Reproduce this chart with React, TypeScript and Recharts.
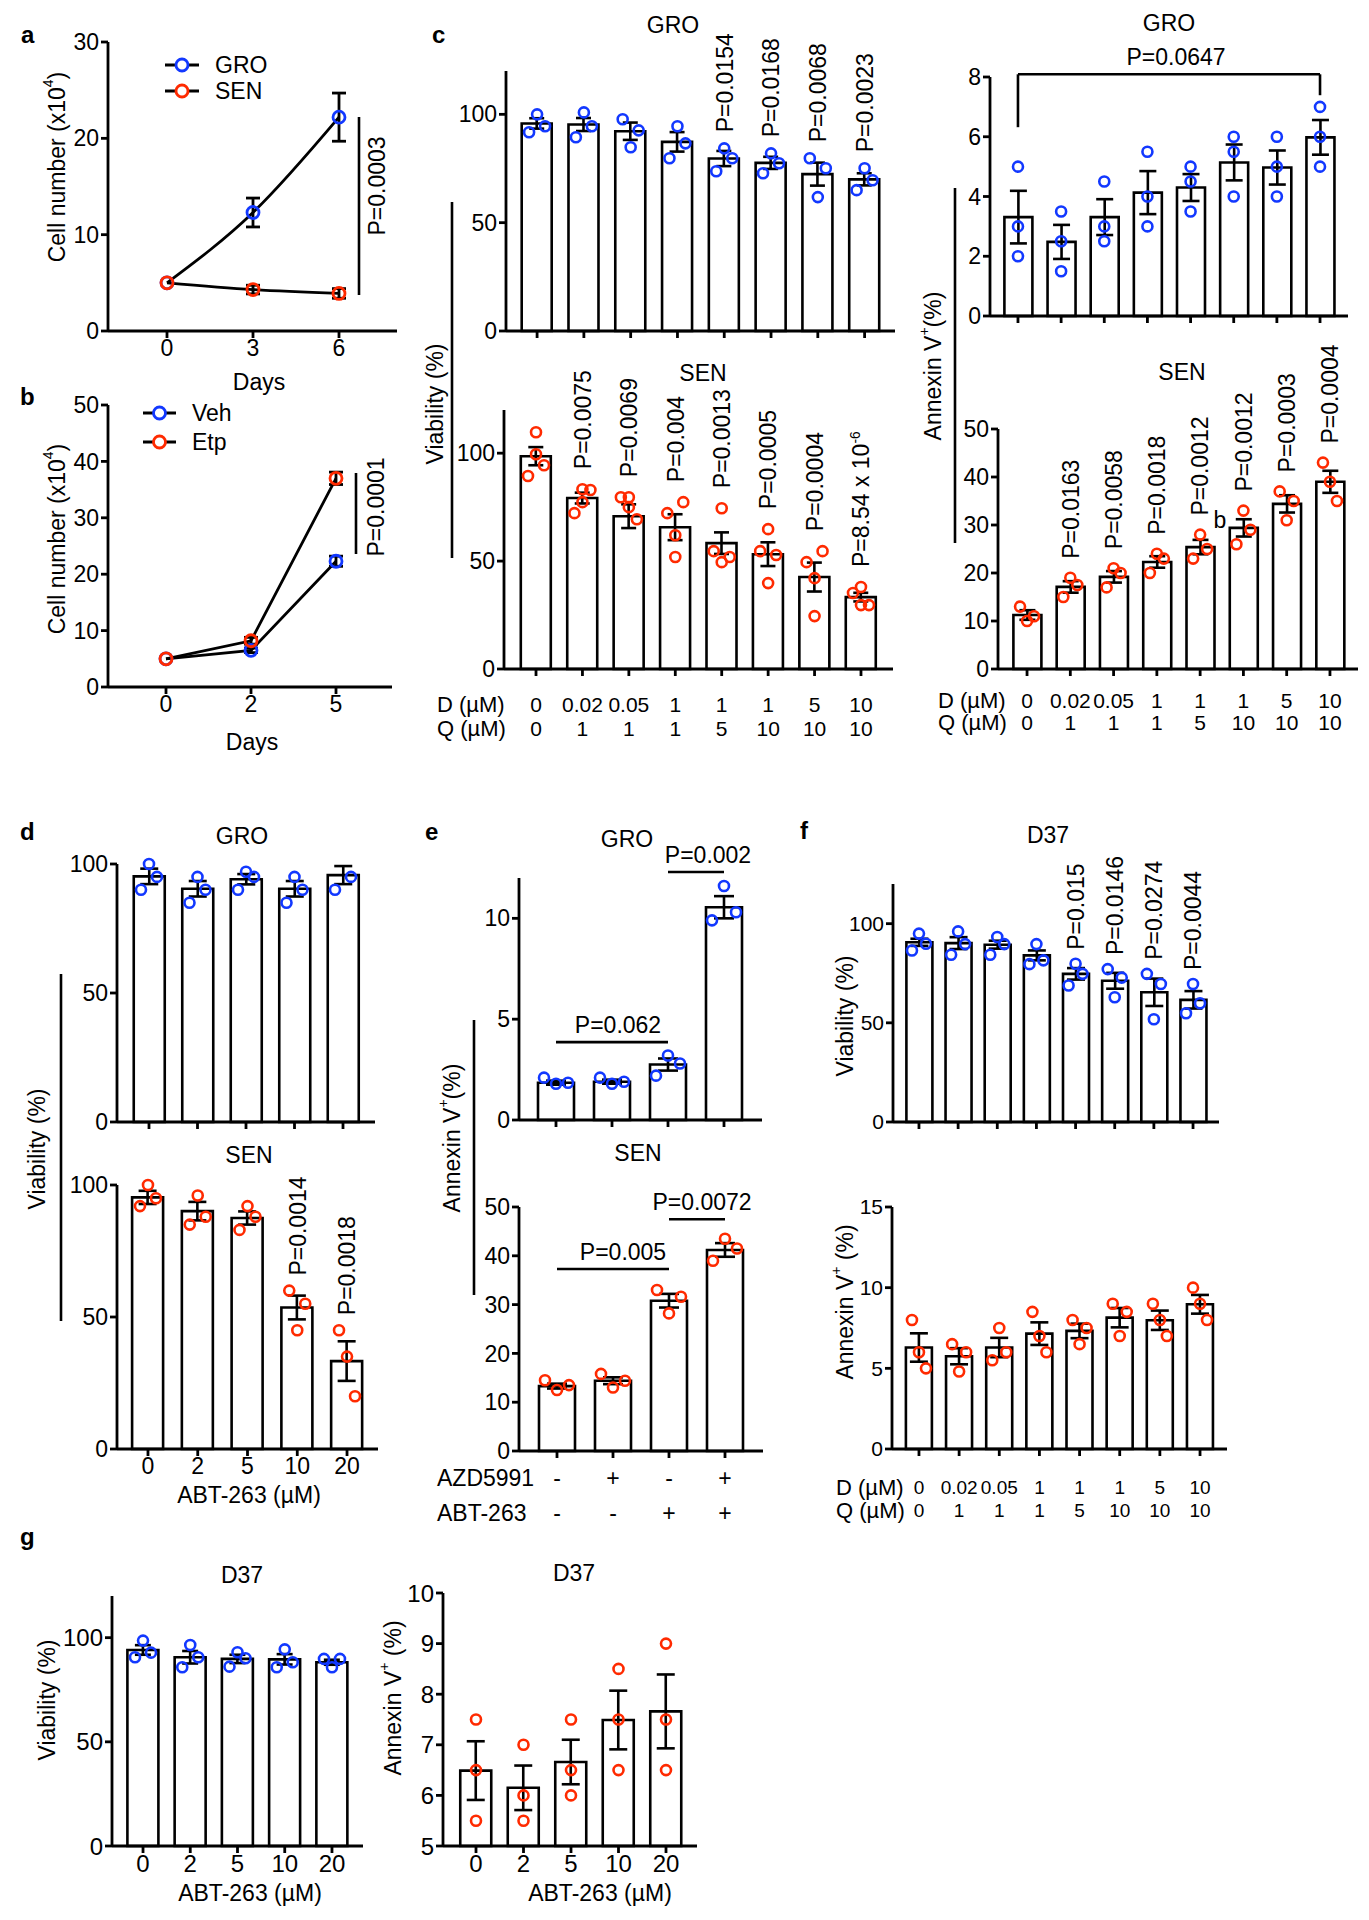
import React from 'react';
import { ComposedChart, LineChart, Line, Bar, Scatter, XAxis, YAxis, ErrorBar, ReferenceLine } from 'recharts';

const FONT = '"Liberation Sans", Arial, Helvetica, sans-serif';
const BLUE = '#1238ff';
const RED = '#ff2a00';
const AX = { stroke: '#000', strokeWidth: 2.8 };

// a - cell growth, GRO vs SEN
const aDays = ['0', '3', '6'];
const aGro = [5, 12.3, 22.2];
const aGroSem = [0, 1.5, 2.5];
const aSen = [5, 4.3, 3.9];
const aSenSem = [0, 0.45, 0.5];

// b - cell growth, Veh vs Etp
const bDays = ['0', '2', '5'];
const bVeh = [5, 6.5, 22.3];
const bVehSem = [0, 0.4, 0.9];
const bEtp = [5, 8.2, 37];
const bEtpSem = [0, 0.6, 1.1];

// c - D+Q doses
const cD = ['0', '0.02', '0.05', '1', '1', '1', '5', '10'];
const cQ = ['0', '1', '1', '1', '5', '10', '10', '10'];
const cCats = cD.map((d, i) => d + '/' + cQ[i]);

const cGroViab = [95.8, 95.3, 92.2, 87.3, 79.6, 77.6, 72.4, 70.0];
const cGroViabSem = [2.4, 3.0, 4.0, 4.5, 3.5, 2.8, 5.3, 2.8];
const cGroViabPts = [[91.7, 100, 94.5], [89.4, 100.9, 94.5], [97.7, 84.8, 92.6], [79.7, 94.5, 86.6], [73.7, 84.3, 79.7], [72.8, 82.0, 77.4], [79.7, 61.8, 75.1], [65.0, 75.1, 69.6]];
const cGroViabP = [null, null, null, null, 'P=0.0154', 'P=0.0168', 'P=0.0068', 'P=0.0023'];

const cSenViab = [98.6, 79.2, 70.8, 65.7, 58.3, 53.2, 42.6, 33.3];
const cSenViabSem = [4.2, 2.5, 5.5, 6.0, 5.0, 5.5, 6.7, 2.0];
const cSenViabPts = [[89.4, 109.7, 99.5, 94.4], [72.2, 83.3, 77.3, 82.9], [79.6, 75, 79.6, 69.4], [72.2, 62, 51.9, 77.3], [54.6, 74.5, 49.5, 51.9], [54.6, 64.8, 39.8, 52.8], [49.5, 42.1, 24.5, 54.6], [35.2, 38, 29.6, 29.6]];
const cSenViabP = [null, 'P=0.0075', 'P=0.0069', 'P=0.004', 'P=0.0013', 'P=0.0005', 'P=0.0004', 'P=8.54 x 10^-6'];

const cGroAnx = [3.31, 2.48, 3.31, 4.13, 4.3, 5.14, 4.97, 5.98];
const cGroAnxSem = [0.88, 0.57, 0.6, 0.72, 0.45, 0.6, 0.57, 0.58];
const cGroAnxPts = [[5, 3, 2], [3.5, 2.5, 1.5], [4.5, 3, 2.5], [5.5, 4, 3], [5, 4.5, 3.5], [6, 5.5, 4], [6, 5, 4], [7, 6, 5]];
const cGroAnxBrackets = [{ from: cCats[0], to: cCats[7], y: 8.09, legs: [6.32, 7.39], label: 'P=0.0647' }];

const cSenAnx = [11.25, 17.1, 19.2, 22.3, 25.4, 29.4, 34.4, 39.0];
const cSenAnxSem = [1, 1.2, 1.2, 1.2, 1.5, 1.8, 1.8, 2.3];
const cSenAnxPts = [[13, 10, 11], [15, 19, 17.5], [17, 21, 20], [20, 24, 23], [23, 28, 25], [26, 33, 29], [37, 31, 35], [43, 39, 35]];
const cSenAnxP = [null, 'P=0.0163', 'P=0.0058', 'P=0.0018', 'P=0.0012', 'P=0.0012', 'P=0.0003', 'P=0.0004'];

// d - ABT-263 viability
const abtCats = ['0', '2', '5', '10', '20'];
const dGro = [95.2, 90.4, 94.1, 90.4, 95.7];
const dGroSem = [3, 3, 2, 3, 3.5];
const dGroPts = [[90, 100, 95], [85, 95, 90], [90, 97, 95], [85, 95, 90], [90, 95]];
const dSen = [95.3, 90.1, 87.5, 53.6, 33.3];
const dSenSem = [2.5, 3.5, 2.5, 4.5, 7.5];
const dSenPts = [[92, 100, 95], [85, 96, 88], [83, 92, 88], [60, 45, 55], [45, 35, 20]];
const dSenP = [null, null, null, 'P=0.0014', 'P=0.0018'];

// e - AZD5991 / ABT-263 annexin
const eAzd = ['-', '+', '-', '+'];
const eAbt = ['-', '-', '+', '+'];
const eCats = eAzd.map((a, i) => a + '/' + eAbt[i]);
const eGro = [1.85, 1.9, 2.75, 10.55];
const eGroSem = [0.1, 0.1, 0.3, 0.55];
const eGroPts = [[2.1, 1.8, 1.85], [2.1, 1.8, 1.9], [2.2, 3.2, 2.8], [9.9, 11.6, 10.3]];
const eGroBrackets = [
  { from: eCats[0], to: eCats[2], y: 3.86, label: 'P=0.062' },
  { from: eCats[2], to: eCats[3], y: 12.3, label: 'P=0.002' },
];
const eSen = [13.3, 14.4, 30.8, 41.2];
const eSenSem = [0.5, 0.7, 1.4, 1.4];
const eSenPts = [[14.5, 12.5, 13.5], [15.8, 13, 14.4], [33, 28.2, 31.6], [39, 43.5, 41.5]];
const eSenBrackets = [
  { from: eCats[0], to: eCats[2], y: 37.3, label: 'P=0.005' },
  { from: eCats[2], to: eCats[3], y: 47.5, label: 'P=0.0072' },
];

// f - D37 with D+Q
const fViab = [90.6, 90.2, 89.4, 84, 74.7, 71.2, 65.4, 61.6];
const fViabSem = [1.8, 3, 2, 2.5, 2.9, 4, 6.9, 4.4];
const fViabPts = [[86.5, 95, 89.9], [84.3, 96.1, 89.7], [84.3, 93.3, 89.7], [79.6, 89.7, 81.5], [68.8, 79.8, 74.7], [77.1, 62.9, 72.8], [74.7, 51.8, 69.6], [54.8, 69.6, 59.9]];
const fViabP = [null, null, null, null, 'P=0.015', 'P=0.0146', 'P=0.0274', 'P=0.0044'];
const fAnx = [6.29, 5.75, 6.29, 7.15, 7.32, 8.14, 7.98, 8.97];
const fAnxSem = [0.88, 0.5, 0.6, 0.7, 0.45, 0.6, 0.6, 0.58];
const fAnxPts = [[8, 6, 5], [6.5, 4.8, 6], [5.5, 7.5, 6], [8.5, 7, 6], [8, 6.5, 7.5], [9, 7, 8.5], [9, 8, 7], [10, 9, 8]];

// g - D37 with ABT-263
const gViab = [94.1, 90.6, 89.8, 89.6, 88.2];
const gViabSem = [2.3, 3, 2, 2.5, 1.2];
const gViabPts = [[90.6, 98.6, 92.8], [85.8, 96.5, 90.6], [86.1, 93, 90.1], [85.8, 94.4, 88.2], [89.8, 85.8, 89.8]];
const gAnx = [6.49, 6.15, 6.66, 7.49, 7.66];
const gAnxSem = [0.58, 0.44, 0.44, 0.58, 0.73];
const gAnxPts = [[7.5, 6.5, 5.5], [7, 6, 5.5], [7.5, 6.5, 6], [8.5, 7.5, 6.5], [9, 7.5, 6.5]];

type Rect = { x0: number; x1: number; yTop: number; yBase: number };
type Bracket = { from: string; to: string; y: number; legs?: number[]; label: string };

const OFFS: Record<number, number[]> = { 1: [0], 2: [-1, 1], 3: [-1, 0, 1], 4: [-1, 0, 0, 1] };

const blankTick = () => <g />;

// two-row category labels, e.g. "0.02/1"
const rowsTick = (offsets: number[], size: number) => (p: any) => {
  const parts = String(p.payload.value).split('/');
  return (
    <g>
      {parts.map((s, i) => (
        <text key={i} x={p.x} y={p.y + offsets[i]} textAnchor="middle" dominantBaseline="central" fontSize={size} fontFamily={FONT} fill="#000">
          {s}
        </text>
      ))}
    </g>
  );
};

function dotShape(k: number, color: string, spread: number) {
  return (p: any) => {
    const row = p.payload || {};
    const v = row['p' + k];
    if (v == null || p.cx == null || p.cy == null || isNaN(p.cy)) return <g />;
    const off = (OFFS[row.n] || [0, 0, 0, 0])[k] * spread;
    return <circle cx={p.cx + off} cy={p.cy} r={5} fill="none" stroke={color} strokeWidth={2.6} />;
  };
}

function pShape(gap: number, size: number) {
  return (p: any) => {
    const label = p.payload && p.payload.pl;
    if (!label || p.cx == null || p.cy == null) return <g />;
    const y = p.cy - gap;
    const [main, sup] = String(label).split('^');
    return (
      <text x={p.cx} y={y} dy="0.36em" transform={`rotate(-90 ${p.cx} ${y})`} fontSize={size} fontFamily={FONT} fill="#000">
        {main}
        {sup && (
          <tspan fontSize={size * 0.6} dy={-size * 0.42}>
            {sup}
          </tspan>
        )}
      </text>
    );
  };
}

function bracketLabel(text: string, size: number, dx: number) {
  return (lp: any) => {
    const vb = lp && lp.viewBox;
    if (!vb) return null;
    const cx = vb.x1 != null ? (vb.x1 + vb.x2) / 2 : vb.x + (vb.width || 0) / 2;
    const cy = vb.y1 != null ? Math.min(vb.y1, vb.y2) : vb.y;
    return (
      <text x={cx + dx} y={cy - 9} textAnchor="middle" fontSize={size} fontFamily={FONT} fill="#000">
        {text}
      </text>
    );
  };
}

interface BarPanelProps {
  rect: Rect;
  cats: string[];
  means: number[];
  sems: number[];
  pts: number[][];
  color: string;
  domain: [number, number];
  ticks: number[];
  pad: [number, number];
  barSize: number;
  spread: number;
  errW: number;
  tick?: any;
  tickFont?: number;
  pLabels?: (string | null)[];
  pGap?: number;
  brackets?: Bracket[];
  labelDx?: number[];
}

function BarPanel(props: BarPanelProps) {
  const { rect, cats, means, sems, pts, color, domain, ticks, pad, barSize, spread, errW, tick, pLabels, brackets = [], labelDx = [] } = props;
  const tickFont = props.tickFont || 23;
  const pGap = props.pGap || 16;
  const YW = 80, XH = 80, MT = 20, MR = 12;
  const nMax = Math.max(...pts.map((p) => p.length));
  const rows = cats.map((c, i) => {
    const row: any = {
      cat: c,
      mean: means[i],
      sem: sems[i],
      n: pts[i].length,
      top: Math.max(...pts[i], means[i] + sems[i]),
      pl: pLabels ? pLabels[i] : null,
    };
    pts[i].forEach((v, k) => (row['p' + k] = v));
    return row;
  });
  const tickStyle = { fontSize: tickFont, fill: '#000', fontFamily: FONT };
  return (
    <div style={{ position: 'absolute', left: rect.x0 - YW, top: rect.yTop - MT }}>
      <ComposedChart
        width={rect.x1 - rect.x0 + YW + MR}
        height={rect.yBase - rect.yTop + MT + XH}
        data={rows}
        margin={{ top: MT, right: MR, bottom: 0, left: 0 }}
      >
        <XAxis dataKey="cat" type="category" padding={{ left: pad[0], right: pad[1] }} height={XH} axisLine={AX} tickLine={AX} tickSize={7} interval={0} tick={tick || tickStyle} />
        <YAxis type="number" width={YW} domain={domain} ticks={ticks} interval={0} axisLine={AX} tickLine={AX} tickSize={7} tick={tickStyle} />
        <Bar dataKey="mean" barSize={barSize} fill="#fff" stroke="#000" strokeWidth={2.6} isAnimationActive={false}>
          <ErrorBar dataKey="sem" width={errW} stroke="#000" strokeWidth={2.6} direction="y" />
        </Bar>
        {Array.from({ length: nMax }, (_, k) => (
          <Scatter key={'s' + k} dataKey={'p' + k} isAnimationActive={false} shape={dotShape(k, color, spread)} />
        ))}
        {pLabels && <Scatter dataKey="top" isAnimationActive={false} shape={pShape(pGap, 23)} />}
        {brackets.map((b, i) => (
          <ReferenceLine
            key={'bh' + i}
            segment={[{ x: b.from, y: b.y }, { x: b.to, y: b.y }]}
            stroke="#000"
            strokeWidth={2.6}
            ifOverflow="visible"
            label={bracketLabel(b.label, 23, labelDx[i] || 0)}
          />
        ))}
        {brackets.map((b, i) =>
          b.legs
            ? [
                <ReferenceLine key={'bl' + i} segment={[{ x: b.from, y: b.legs[0] }, { x: b.from, y: b.y }]} stroke="#000" strokeWidth={2.6} ifOverflow="visible" />,
                <ReferenceLine key={'br' + i} segment={[{ x: b.to, y: b.legs[1] }, { x: b.to, y: b.y }]} stroke="#000" strokeWidth={2.6} ifOverflow="visible" />,
              ]
            : null
        )}
      </ComposedChart>
    </div>
  );
}

interface GrowthProps {
  rect: Rect;
  days: string[];
  s1: number[];
  e1: number[];
  s2: number[];
  e2: number[];
  c1: string;
  c2: string;
  domain: [number, number];
  ticks: number[];
  pad: [number, number];
  curve: 'monotone' | 'linear';
}

function GrowthPanel({ rect, days, s1, e1, s2, e2, c1, c2, domain, ticks, pad, curve }: GrowthProps) {
  const YW = 80, XH = 60, MT = 20, MR = 20;
  const rows = days.map((d, i) => ({ day: d, s1: s1[i], e1: e1[i], s2: s2[i], e2: e2[i] }));
  const tickStyle = { fontSize: 23, fill: '#000', fontFamily: FONT };
  return (
    <div style={{ position: 'absolute', left: rect.x0 - YW, top: rect.yTop - MT }}>
      <LineChart
        width={rect.x1 - rect.x0 + YW + MR}
        height={rect.yBase - rect.yTop + MT + XH}
        data={rows}
        margin={{ top: MT, right: MR, bottom: 0, left: 0 }}
      >
        <XAxis dataKey="day" padding={{ left: pad[0], right: pad[1] }} height={XH} axisLine={AX} tickLine={AX} tickSize={7} interval={0} tick={tickStyle} />
        <YAxis type="number" width={YW} domain={domain} ticks={ticks} interval={0} axisLine={AX} tickLine={AX} tickSize={7} tick={tickStyle} />
        <Line dataKey="s1" type={curve} stroke="#000" strokeWidth={2.8} isAnimationActive={false} activeDot={false} dot={{ r: 6, stroke: c1, strokeWidth: 2.8, fill: 'none' }}>
          <ErrorBar dataKey="e1" width={7} stroke="#000" strokeWidth={2.8} direction="y" />
        </Line>
        <Line dataKey="s2" type={curve} stroke="#000" strokeWidth={2.8} isAnimationActive={false} activeDot={false} dot={{ r: 6, stroke: c2, strokeWidth: 2.8, fill: 'none' }}>
          <ErrorBar dataKey="e2" width={7} stroke="#000" strokeWidth={2.8} direction="y" />
        </Line>
      </LineChart>
    </div>
  );
}

// free text / annotation helpers
const T = ({ x, y, s = 23, a = 'middle', w, children }: any) => (
  <text x={x} y={y} fontSize={s} textAnchor={a} dominantBaseline="central" fontWeight={w} fill="#000">
    {children}
  </text>
);
const VT = ({ x, y, s = 23, children }: any) => (
  <text transform={`translate(${x},${y}) rotate(-90)`} fontSize={s} textAnchor="middle" dominantBaseline="central" fill="#000">
    {children}
  </text>
);
const L = ({ x, y, children }: any) => (
  <text x={x} y={y} fontSize={24} fontWeight="bold" fill="#000">
    {children}
  </text>
);
const VLine = ({ x, y1, y2 }: any) => <line x1={x} x2={x} y1={y1} y2={y2} stroke="#000" strokeWidth={2.6} />;
const Sup = ({ c, after }: any) => (
  <>
    <tspan fontSize={14} dy={-9}>{c}</tspan>
    <tspan dy={9}>{after}</tspan>
  </>
);
const LegendItem = ({ x1, x2, y, color, tx, label }: any) => (
  <g>
    <line x1={x1} x2={x2} y1={y} y2={y} stroke="#000" strokeWidth={2.8} />
    <circle cx={(x1 + x2) / 2} cy={y} r={6} fill="#fff" stroke={color} strokeWidth={2.8} />
    <T x={tx} y={y} a="start">{label}</T>
  </g>
);

function Overlay() {
  return (
    <svg width={1369} height={1920} style={{ position: 'absolute', left: 0, top: 0, pointerEvents: 'none', fontFamily: FONT }}>
      {/* panel letters */}
      <L x={21} y={43}>a</L>
      <L x={20} y={405}>b</L>
      <L x={432} y={43}>c</L>
      <L x={20} y={840}>d</L>
      <L x={425} y={840}>e</L>
      <L x={800} y={839}>f</L>
      <L x={20} y={1545}>g</L>

      {/* a */}
      <VT x={57} y={167}>Cell number (x10<Sup c="4" after=")" /></VT>
      <T x={259} y={382}>Days</T>
      <LegendItem x1={165} x2={199} y={65} color={BLUE} tx={215} label="GRO" />
      <LegendItem x1={165} x2={199} y={91} color={RED} tx={215} label="SEN" />
      <VLine x={359} y1={117} y2={295} />
      <VT x={377} y={186}>P=0.0003</VT>

      {/* b */}
      <VT x={57} y={539}>Cell number (x10<Sup c="4" after=")" /></VT>
      <T x={252} y={742}>Days</T>
      <LegendItem x1={143} x2={176} y={413} color={BLUE} tx={192} label="Veh" />
      <LegendItem x1={143} x2={176} y={442} color={RED} tx={192} label="Etp" />
      <VLine x={356} y1={473} y2={554} />
      <VT x={376} y={507}>P=0.0001</VT>

      {/* c left */}
      <T x={673} y={25}>GRO</T>
      <T x={703} y={373}>SEN</T>
      <VT x={435} y={404}>Viability (%)</VT>
      <VLine x={452} y1={202} y2={558} />
      <T x={437} y={704} s={22} a="start">D (µM)</T>
      <T x={437} y={728} s={22} a="start">Q (µM)</T>

      {/* c right */}
      <T x={1169} y={23}>GRO</T>
      <T x={1182} y={372}>SEN</T>
      <VT x={933} y={366}>Annexin V<Sup c="+" after="(%)" /></VT>
      <VLine x={955} y1={188} y2={543} />
      <T x={938} y={700} s={22} a="start">D (µM)</T>
      <T x={938} y={722} s={22} a="start">Q (µM)</T>
      <T x={1220} y={520}>b</T>

      {/* d */}
      <T x={242} y={836}>GRO</T>
      <T x={249} y={1155}>SEN</T>
      <VT x={37} y={1149}>Viability (%)</VT>
      <VLine x={61} y1={974} y2={1321} />
      <T x={249} y={1495}>ABT-263 (µM)</T>

      {/* e */}
      <T x={627} y={839}>GRO</T>
      <T x={638} y={1153}>SEN</T>
      <VT x={452} y={1138}>Annexin V<Sup c="+" after="(%)" /></VT>
      <VLine x={474} y1={1020} y2={1295} />
      <T x={437} y={1478} a="start">AZD5991</T>
      <T x={437} y={1513} a="start">ABT-263</T>

      {/* f */}
      <T x={1048} y={835}>D37</T>
      <VT x={845} y={1016}>Viability (%)</VT>
      <VT x={845} y={1302}>Annexin V<Sup c="+" after=" (%)" /></VT>
      <T x={836} y={1487} s={22} a="start">D (µM)</T>
      <T x={836} y={1510} s={22} a="start">Q (µM)</T>

      {/* g */}
      <T x={242} y={1575}>D37</T>
      <VT x={47} y={1700}>Viability (%)</VT>
      <T x={250} y={1893}>ABT-263 (µM)</T>
      <T x={574} y={1573}>D37</T>
      <VT x={393} y={1698}>Annexin V<Sup c="+" after=" (%)" /></VT>
      <T x={600} y={1893}>ABT-263 (µM)</T>
    </svg>
  );
}

export default function App() {
  return (
    <div style={{ position: 'absolute', left: 0, top: 0, width: 1369, height: 1920, background: '#fff', fontFamily: FONT, overflow: 'hidden' }}>
      <style>{'.recharts-surface{overflow:visible}'}</style>

      <GrowthPanel rect={{ x0: 108, x1: 397, yTop: 42, yBase: 331 }} days={aDays} s1={aGro} e1={aGroSem} s2={aSen} e2={aSenSem} c1={BLUE} c2={RED} domain={[0, 30]} ticks={[0, 10, 20, 30]} pad={[59, 58]} curve="monotone" />
      <GrowthPanel rect={{ x0: 108, x1: 392, yTop: 405, yBase: 687 }} days={bDays} s1={bVeh} e1={bVehSem} s2={bEtp} e2={bEtpSem} c1={BLUE} c2={RED} domain={[0, 50]} ticks={[0, 10, 20, 30, 40, 50]} pad={[58, 56]} curve="linear" />

      <BarPanel rect={{ x0: 506, x1: 895, yTop: 71, yBase: 331 }} cats={cCats} means={cGroViab} sems={cGroViabSem} pts={cGroViabPts} color={BLUE} domain={[0, 120]} ticks={[0, 50, 100]} pad={[7.7, 7]} barSize={30} spread={8} errW={7.5} tick={blankTick} pLabels={cGroViabP} pGap={16} />
      <BarPanel rect={{ x0: 504, x1: 893, yTop: 410, yBase: 669 }} cats={cCats} means={cSenViab} sems={cSenViabSem} pts={cSenViabPts} color={RED} domain={[0, 120]} ticks={[0, 50, 100]} pad={[8.8, 8.8]} barSize={30} spread={8} errW={7.5} tick={rowsTick([26, 50], 21)} pLabels={cSenViabP} pGap={20} />

      <BarPanel rect={{ x0: 990, x1: 1348, yTop: 77, yBase: 316 }} cats={cCats} means={cGroAnx} sems={cGroAnxSem} pts={cGroAnxPts} color={BLUE} domain={[0, 8]} ticks={[0, 2, 4, 6, 8]} pad={[6.4, 6.4]} barSize={28} spread={0} errW={8.5} tick={blankTick} brackets={cGroAnxBrackets} labelDx={[7]} />
      <BarPanel rect={{ x0: 998, x1: 1358, yTop: 429, yBase: 669 }} cats={cCats} means={cSenAnx} sems={cSenAnxSem} pts={cSenAnxPts} color={RED} domain={[0, 50]} ticks={[0, 10, 20, 30, 40, 50]} pad={[7.4, 6.4]} barSize={28} spread={7} errW={8} tick={rowsTick([22, 44], 21)} pLabels={cSenAnxP} pGap={19} />

      <BarPanel rect={{ x0: 117, x1: 375, yTop: 864, yBase: 1122 }} cats={abtCats} means={dGro} sems={dGroSem} pts={dGroPts} color={BLUE} domain={[0, 100]} ticks={[0, 50, 100]} pad={[7.75, 7.75]} barSize={31} spread={8} errW={9} tick={blankTick} />
      <BarPanel rect={{ x0: 117, x1: 378, yTop: 1185, yBase: 1449 }} cats={abtCats} means={dSen} sems={dSenSem} pts={dSenPts} color={RED} domain={[0, 100]} ticks={[0, 50, 100]} pad={[6.1, 6.1]} barSize={31} spread={8} errW={9} pLabels={dSenP} pGap={15} />

      <BarPanel rect={{ x0: 519, x1: 762, yTop: 878, yBase: 1120 }} cats={eCats} means={eGro} sems={eGroSem} pts={eGroPts} color={BLUE} domain={[0, 12]} ticks={[0, 5, 10]} pad={[9, 10]} barSize={36} spread={12} errW={10} tick={blankTick} brackets={eGroBrackets} labelDx={[6, 12]} />
      <BarPanel rect={{ x0: 519, x1: 763, yTop: 1207, yBase: 1451 }} cats={eCats} means={eSen} sems={eSenSem} pts={eSenPts} color={RED} domain={[0, 50]} ticks={[0, 10, 20, 30, 40, 50]} pad={[10, 10]} barSize={36} spread={12} errW={10} tick={rowsTick([18, 53], 23)} brackets={eSenBrackets} labelDx={[10, 5]} />

      <BarPanel rect={{ x0: 893, x1: 1219, yTop: 884, yBase: 1122 }} cats={cCats} means={fViab} sems={fViabSem} pts={fViabPts} color={BLUE} domain={[0, 120]} ticks={[0, 50, 100]} pad={[6.4, 6.4]} barSize={26} spread={7} errW={9} tick={blankTick} tickFont={21} pLabels={fViabP} pGap={14} />
      <BarPanel rect={{ x0: 892, x1: 1227, yTop: 1207, yBase: 1449 }} cats={cCats} means={fAnx} sems={fAnxSem} pts={fAnxPts} color={RED} domain={[0, 15]} ticks={[0, 5, 10, 15]} pad={[6.9, 6.9]} barSize={26} spread={7} errW={9} tick={rowsTick([29, 52], 19)} tickFont={21} />

      <BarPanel rect={{ x0: 112, x1: 363, yTop: 1596, yBase: 1846 }} cats={abtCats} means={gViab} sems={gViabSem} pts={gViabPts} color={BLUE} domain={[0, 120]} ticks={[0, 50, 100]} pad={[7.4, 7.4]} barSize={31} spread={8} errW={8} tickFont={24} />
      <BarPanel rect={{ x0: 443, x1: 697, yTop: 1593, yBase: 1846 }} cats={abtCats} means={gAnx} sems={gAnxSem} pts={gAnxPts} color={RED} domain={[5, 10]} ticks={[5, 6, 7, 8, 9, 10]} pad={[9.25, 7.25]} barSize={31} spread={0} errW={9} tickFont={24} />

      <Overlay />
    </div>
  );
}
